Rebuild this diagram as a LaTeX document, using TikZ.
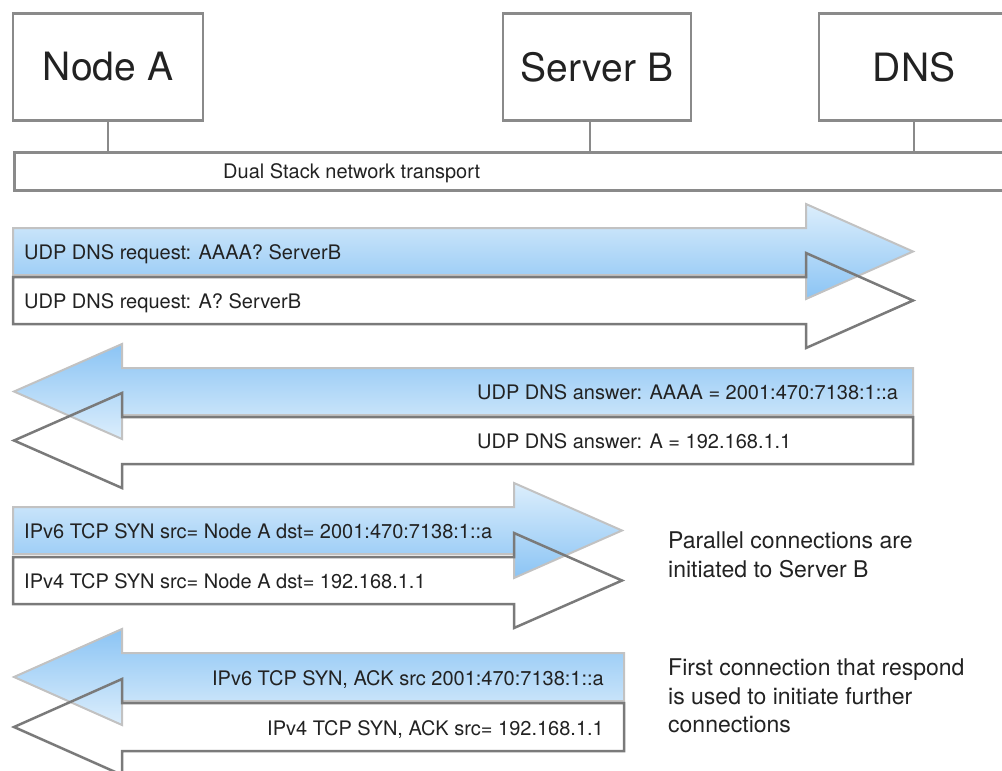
\documentclass[tikz,border=0pt]{standalone}
\usepackage{fontspec}
\setmainfont{TeX Gyre Heros}

\definecolor{boxgray}{HTML}{8A8A8A}
\definecolor{arrowgray}{HTML}{7A7A7A}
\definecolor{rimgray}{HTML}{C2C2C2}
\definecolor{skylight}{HTML}{DCEEFC}
\definecolor{skydark}{HTML}{8BC4F4}
\definecolor{inkgray}{HTML}{222222}

\tikzset{
    hostbox/.style={draw=boxgray, line width=2.8pt, minimum width=190pt, minimum height=107pt, inner sep=0pt, font=\fontsize{39}{47}\selectfont, text=inkgray},
    busbox/.style={draw=boxgray, line width=2.8pt, minimum width=1000pt, minimum height=38pt, inner sep=0pt, anchor=north west},
    busline/.style={draw=boxgray, line width=2.8pt},
    msg/.style={font=\fontsize{20}{24}\selectfont, text=inkgray, inner sep=0pt},
    note/.style={font=\fontsize{23}{28.5}\selectfont, text=inkgray, align=left, inner sep=0pt, anchor=north west},
    v6right/.style={draw=rimgray, line width=2pt, top color=skylight, bottom color=skydark},
    v6left/.style={draw=rimgray, line width=2pt, top color=skydark, bottom color=skylight},
    v4arrow/.style={draw=arrowgray, line width=2.5pt},
}

% fat arrow: style, tail x, head base x, tip x, body top y, body bottom y
\newcommand{\fatarrow}[6]{%
    \path[#1] (#2,#5) -- (#3,#5) -- (#3,#5-24) -- (#4,{(#5+#6)/2}) -- (#3,#6+24) -- (#3,#6) -- (#2,#6) -- cycle;}

\begin{document}
\begin{tikzpicture}[x=1pt, y=-1pt]

    \clip (0,0) rectangle (1002,771);

    % Hosts and the shared transport
    \node[hostbox] (nodeA) at (108,67) {Node A};
    \node[hostbox, minimum width=188pt] (serverB) at (597,67) {Server B};
    \node[hostbox] (dns) at (914,67) {DNS};
    \node[busbox] (bus) at (13,151) {};
    \node[msg, anchor=base west] (bustext) at (223,178) {Dual Stack network transport};

    \draw[busline] (nodeA.south) -- (nodeA.south |- bus.north);
    \draw[busline] ([xshift=-7pt]serverB.south) -- ([xshift=-7pt]serverB.south |- bus.north);
    \draw[busline] (dns.south) -- (dns.south |- bus.north);

    % DNS requests
    \fatarrow{v6right}{13}{806}{913}{228}{275}
    \fatarrow{v4arrow}{13}{806}{913}{277}{324}
    \node[msg, anchor=base west] (reqsix) at (24,259.5) {UDP DNS request: AAAA? ServerB};
    \node[msg, anchor=base west] (reqfour) at (24,308.5) {UDP DNS request: A? ServerB};

    % DNS answers
    \fatarrow{v6left}{913}{122}{14}{368}{415}
    \fatarrow{v4arrow}{913}{122}{14}{417}{464}
    \node[msg, anchor=base west] (anssix) at (477,399.5) {UDP DNS answer: AAAA = 2001:470:7138:1::a};
    \node[msg, anchor=base west] (ansfour) at (477,448.5) {UDP DNS answer: A = 192.168.1.1};

    % SYN to Server B
    \fatarrow{v6right}{13}{514}{622}{507}{554}
    \fatarrow{v4arrow}{13}{514}{622}{557}{604}
    \node[msg, anchor=base west] (synsix) at (24,538.5) {IPv6 TCP SYN src= Node A dst= 2001:470:7138:1::a};
    \node[msg, anchor=base west] (synfour) at (24,588.5) {IPv4 TCP SYN src= Node A dst= 192.168.1.1};

    % SYN, ACK back
    \fatarrow{v6left}{624}{122}{14}{653}{701}
    \fatarrow{v4arrow}{624}{122}{14}{703}{751}
    \node[msg, anchor=base east] (acksix) at (604,685) {IPv6 TCP SYN, ACK src 2001:470:7138:1::a};
    \node[msg, anchor=base east] (ackfour) at (604,735) {IPv4 TCP SYN, ACK src= 192.168.1.1};

    % Notes
    \node[note] (parallel) at (668,532) {Parallel connections are\\initiated to Server B};
    \node[note] (firstwins) at (668,659) {First connection that respond\\is used to initiate further\\connections};

\end{tikzpicture}
\end{document}
